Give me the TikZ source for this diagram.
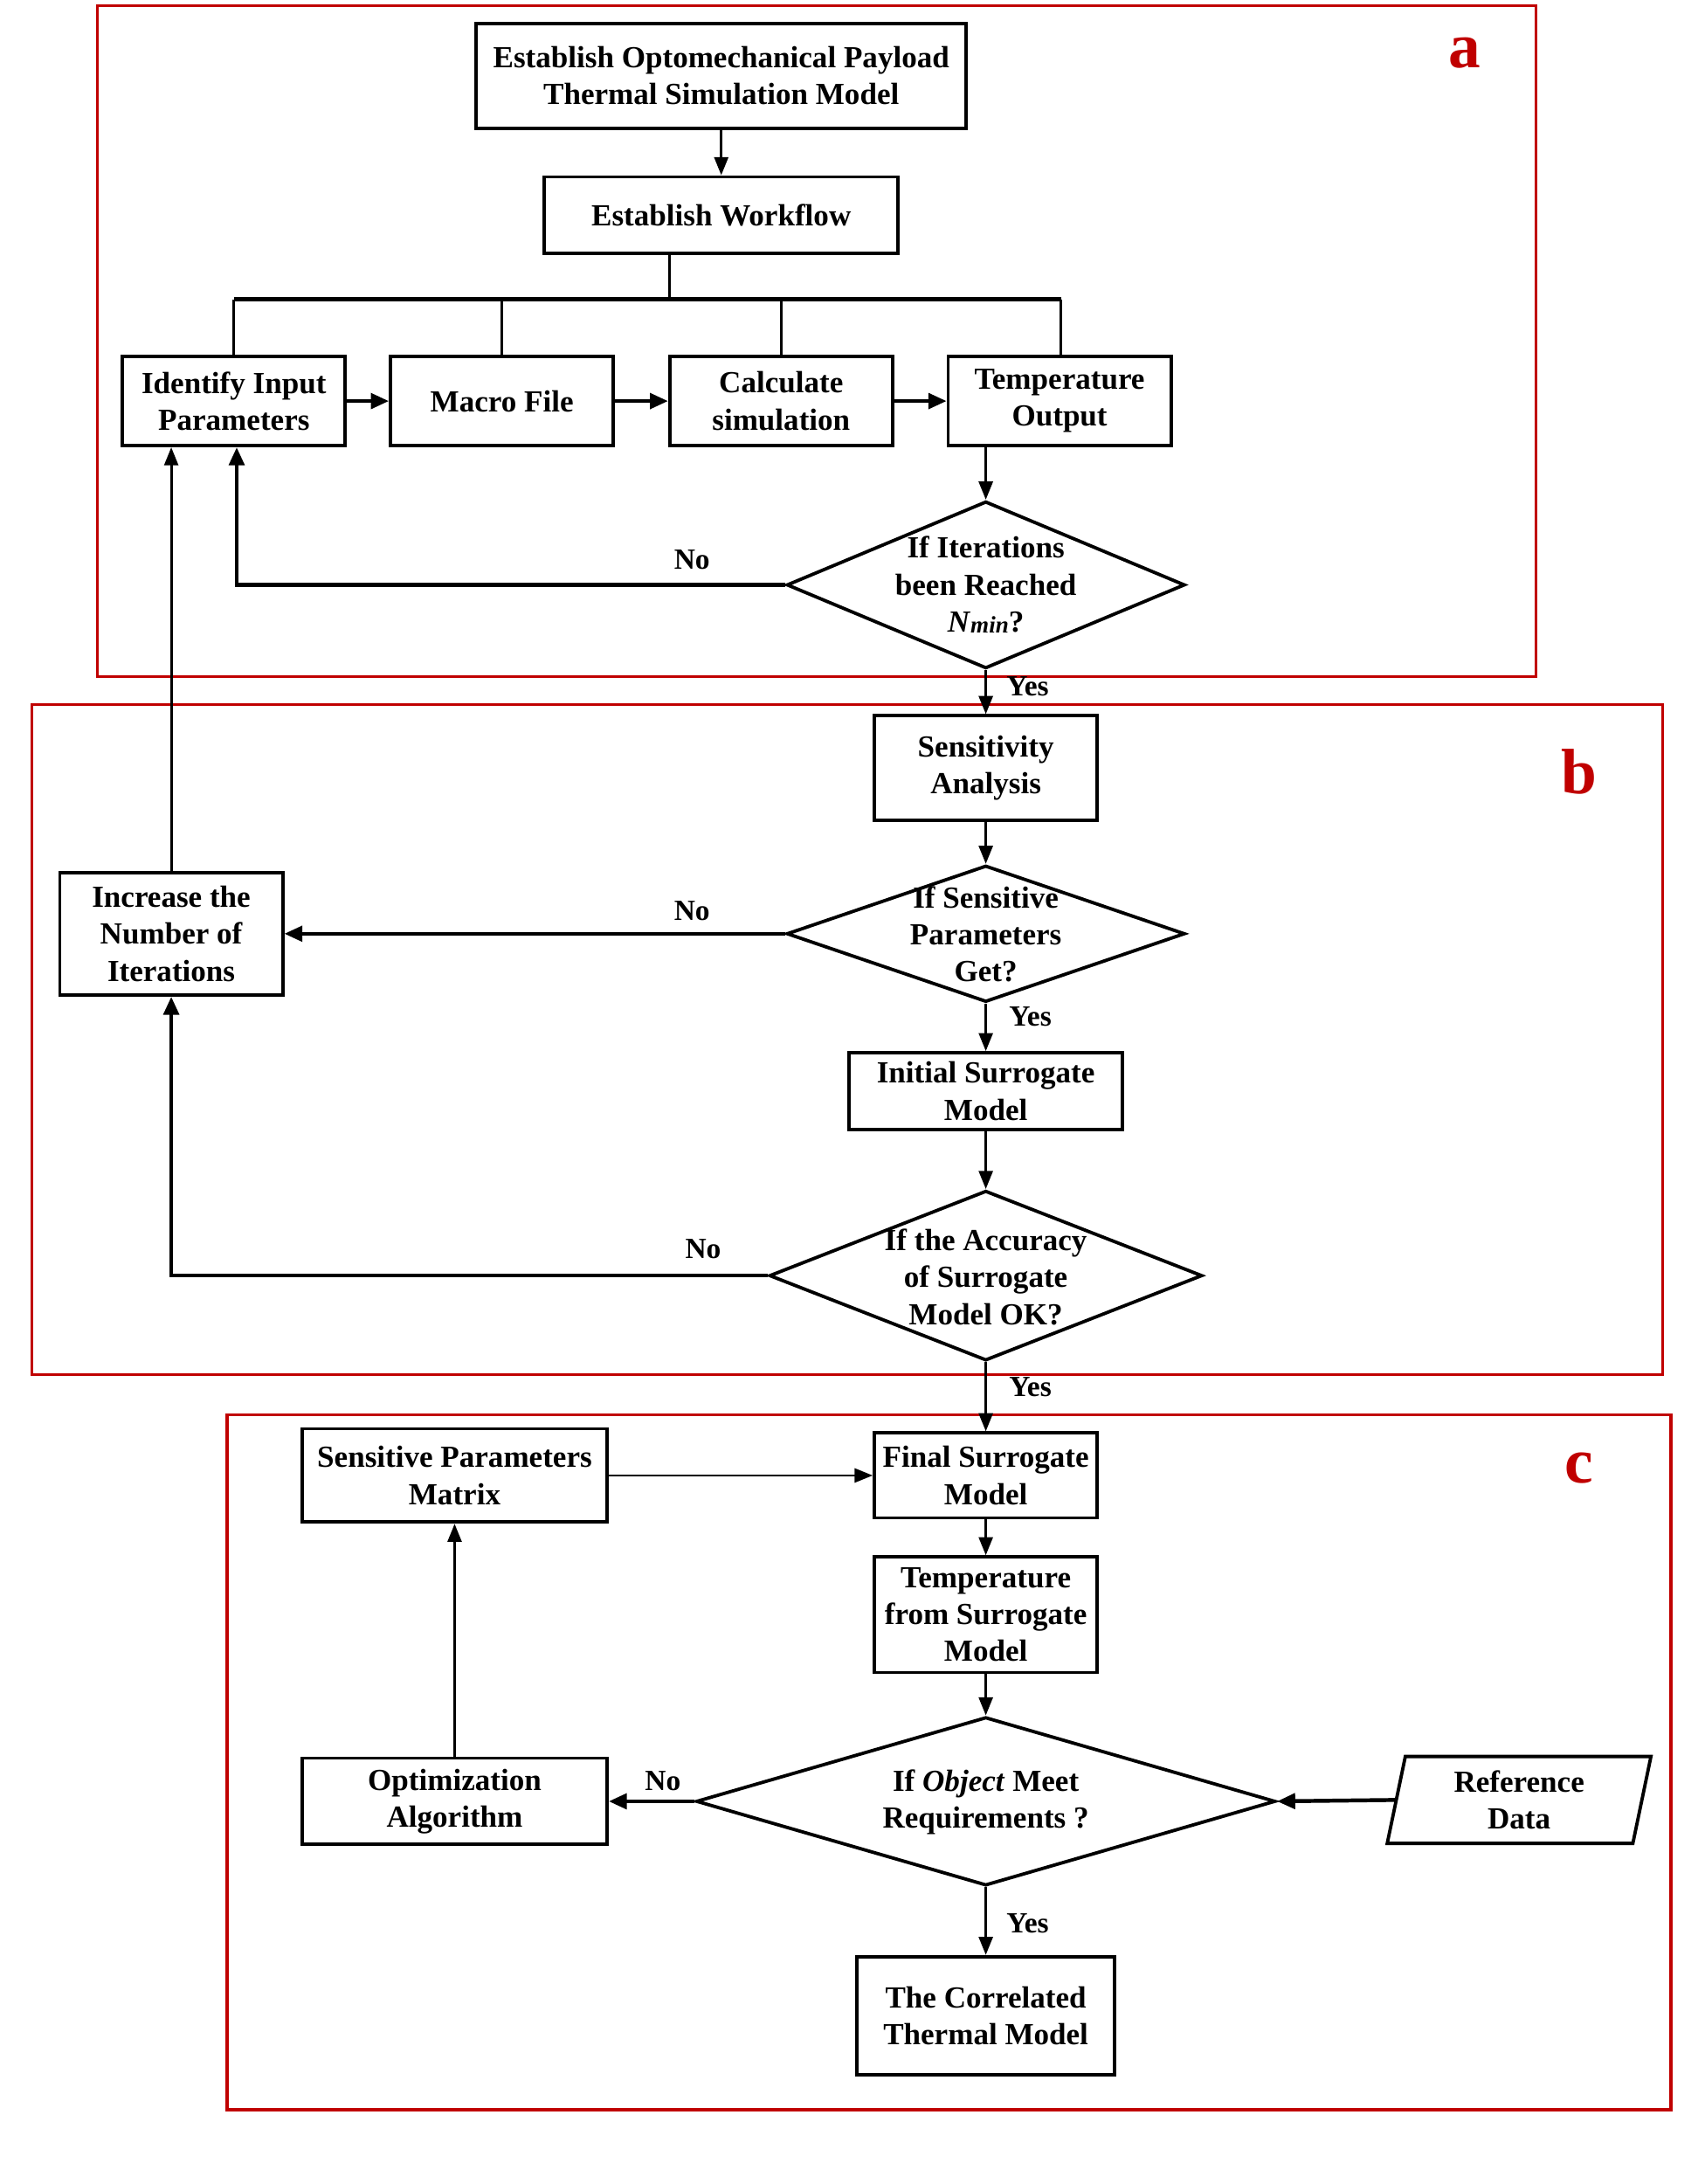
\documentclass[tikz,border=0pt]{standalone}
\usepackage{fontspec}
\setmainfont{Liberation Serif}
\usetikzlibrary{shapes.geometric,arrows.meta}
\definecolor{framered}{RGB}{192,0,0}
\begin{document}
\begin{tikzpicture}[x=1pt,y=-1pt,
  box/.style={draw, line width=2.4pt, align=center, inner sep=0pt,
    font=\bfseries\fontsize{22}{26.5}\selectfont},
  dia/.style={draw, diamond, line width=2.4pt, inner sep=0pt},
  dtext/.style={align=center, inner sep=0pt, font=\bfseries\fontsize{22}{26.5}\selectfont},
  lbl/.style={inner sep=0pt, font=\bfseries\fontsize{21}{24}\selectfont},
  frame/.style={draw=framered, line width=2.2pt},
  letter/.style={text=framered, inner sep=0pt, font=\bfseries\fontsize{46}{50}\selectfont},
  arr/.style={line width=1.8pt, -{Triangle[length=13pt,width=10pt]}},
  arrT/.style={line width=2.8pt, -{Triangle[length=13pt,width=11pt]}},
  con/.style={line width=1.8pt},
  conT/.style={line width=2.8pt}]
\useasboundingbox (0,0) rectangle (1223.9,1568.3);
\fill[white] (0,0) rectangle (1223.9,1568.3);

% frames
\draw[frame] (70,4) rectangle (1103,486);
\draw[frame] (23,506) rectangle (1194,987);
\draw[frame] (163,1016) rectangle (1200,1515);
\node[letter] (la) at (1052,38) {a};
\node[letter] (lb) at (1134,554) {b};
\node[letter] (lc) at (1134,1054) {c};

% part a
\node[box, minimum width=352, minimum height=75] (est) at (518,54.5) {Establish Optomechanical Payload\\Thermal Simulation Model};
\node[box, minimum width=254, minimum height=55] (wf) at (518,154.5) {Establish Workflow};
\node[box, minimum width=160, minimum height=64] (iden) at (168,288) {Identify Input\\Parameters};
\node[box, minimum width=160, minimum height=64] (macro) at (360.5,288) {Macro File};
\node[box, minimum width=160, minimum height=64] (calc) at (561,288) {Calculate\\simulation};
\node[box, minimum width=160, minimum height=64] (tout) at (761,288) {Temperature\\Output};
\node[dia, minimum width=286, minimum height=120] (d1) at (708,420) {};
\node[dtext] (d1t) at (d1.center) {If Iterations\\been Reached\\\textit{N}{\itshape\fontsize{17}{17}\selectfont\raisebox{-1pt}{min}}?};

% part b
\node[box, minimum width=160, minimum height=75] (sens) at (708,551.5) {Sensitivity\\Analysis};
\node[dia, minimum width=286, minimum height=98] (d2) at (708,670.5) {};
\node[dtext] (d2t) at (708,671) {If Sensitive\\Parameters\\Get?};
\node[box, minimum width=160, minimum height=88] (inc) at (123,670.5) {Increase the\\Number of\\Iterations};
\node[box, minimum width=196, minimum height=55] (init) at (708,783.5) {Initial Surrogate\\Model};
\node[dia, minimum width=311, minimum height=122] (d3) at (708,916) {};
\node[dtext] (d3t) at (708,917) {If the Accuracy\\of Surrogate\\Model OK?};

% part c
\node[box, minimum width=160, minimum height=61] (final) at (708,1059.5) {Final Surrogate\\Model};
\node[box, minimum width=219, minimum height=67] (spm) at (326.5,1059.5) {Sensitive Parameters\\Matrix};
\node[box, minimum width=160, minimum height=83] (tfs) at (708,1159.5) {Temperature\\from Surrogate\\Model};
\node[dia, minimum width=416, minimum height=121] (d4) at (708,1293.5) {};
\node[dtext] (d4t) at (708,1294) {If \textit{Object} Meet\\Requirements ?};
\node[box, minimum width=219, minimum height=62] (opt) at (326.5,1293.5) {Optimization\\Algorithm};
\node[box, minimum width=185, minimum height=85] (corr) at (708,1447.5) {The Correlated\\Thermal Model};
\node[box, draw=none, minimum width=174, minimum height=60] (ref) at (1091,1292.5) {Reference\\Data};
\draw[line width=2.4pt, line join=miter] ([xshift=6.5]ref.north west) -- ([xshift=6.5]ref.north east)
  -- ([xshift=-6.5]ref.south east) -- ([xshift=-6.5]ref.south west) -- cycle;

% connectors part a
\draw[arr] (est) -- (wf);
\coordinate (busL) at (168,215);
\coordinate (busC) at (481,215);
\coordinate (busR) at (762,215);
\draw[con] (wf.south -| busC) -- (busC);
\draw[conT] (busL) -- (busR);
\draw[con] (busL) -- (iden.north);
\draw[con] (macro.north |- busL) -- (macro.north);
\draw[con] (calc.north |- busL) -- (calc.north);
\draw[con] (busR) -- (busR |- tout.north);
\draw[arrT] (iden) -- (macro);
\draw[arrT] (macro) -- (calc);
\draw[arrT] (calc) -- (tout);
\draw[arr] (tout.south -| d1.north) -- (d1.north);
\draw[arrT] (d1.west) -| ([xshift=2]iden.south);
\node[lbl] (no1) at (497,402) {No};
\draw[arr] (d1.south) -- (sens.north);
\node[lbl] (yes1) at (738,493) {Yes};

% connectors part b
\draw[arr] (sens) -- (d2);
\draw[arrT] (d2.west) -- (inc.east);
\node[lbl] (no2) at (497,654) {No};
\draw[arr] (inc.north) -- (inc.north |- iden.south);
\draw[arr] (d2.south) -- (init.north);
\node[lbl] (yes2) at (740,730) {Yes};
\draw[arr] (init) -- (d3);
\draw[arrT] (d3.west) -| (inc.south);
\node[lbl] (no3) at (505,897) {No};
\draw[arr] (d3.south) -- (final.north);
\node[lbl] (yes3) at (740,996) {Yes};

% connectors part c
\draw[arr] (spm) -- (final);
\draw[arr] (final) -- (tfs);
\draw[arr] (tfs) -- (d4);
\draw[arrT] (d4.west) -- (opt.east);
\node[lbl] (no4) at (476,1279) {No};
\draw[arr] (opt) -- (spm);
\draw[arrT] (ref.west) -- (d4.east);
\draw[arr] (d4.south) -- (corr.north);
\node[lbl] (yes4) at (738,1381) {Yes};
\end{tikzpicture}
\end{document}
